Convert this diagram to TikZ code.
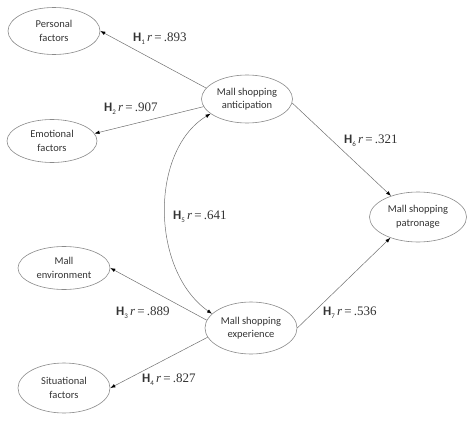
\documentclass[tikz,border=0pt]{standalone}
\usepackage{fontspec}
\setmainfont{Liberation Serif}
\newfontfamily\sanf{Carlito}
\usetikzlibrary{shapes.geometric,arrows.meta}
\definecolor{edgegray}{HTML}{8A8A8A}
\definecolor{linegray}{HTML}{707070}
\definecolor{txt}{HTML}{333333}
\newcommand{\hyp}[2]{{\sanf\bfseries H}\raisebox{-0.45ex}{\sanf\fontsize{7}{7}\selectfont #1}\,\textit{r}\,=\,.#2}
\tikzset{
  construct/.style={ellipse, draw=edgegray, line width=0.6pt, inner sep=0pt,
    minimum width=92pt, minimum height=47pt, align=center, text=txt,
    font=\sanf\fontsize{10.5}{13.5}\selectfont},
  conn/.style={draw=linegray, line width=0.5pt, -{Latex[length=5pt,width=3.6pt,black]}},
  bconn/.style={draw=linegray, line width=0.5pt, {Latex[length=5pt,width=3.6pt,black]}-{Latex[length=5pt,width=3.6pt,black]}},
  hlabel/.style={text=txt, font=\fontsize{13}{13}\selectfont, inner sep=0pt}
}
\begin{document}
\begin{tikzpicture}[x=1pt,y=-1pt]
\useasboundingbox (0,0) rectangle (474,423);
\node[construct, minimum width=92pt, minimum height=47pt] (pers) at (54,31) {Personal\\factors};
\node[construct, minimum width=90pt, minimum height=43pt] (emo) at (52,141) {Emotional\\factors};
\node[construct, minimum width=91pt, minimum height=48pt] (ant) at (247,99) {Mall shopping\\anticipation};
\node[construct, minimum width=97pt, minimum height=50pt] (pat) at (418,217) {Mall shopping\\patronage};
\node[construct, minimum width=92pt, minimum height=43pt] (env) at (64,268) {Mall\\environment};
\node[construct, minimum width=92pt, minimum height=50pt] (sit) at (64,388) {Situational\\factors};
\node[construct, minimum width=92pt, minimum height=52pt] (exp) at (251,328) {Mall shopping\\experience};

\draw[conn] (ant.165) -- (pers.east);
\draw[conn] (ant.190) -- (emo.10);
\draw[bconn] (ant.202) .. controls (150,150) and (150,270) .. (exp.160);
\draw[conn] (exp.170) -- (env.east);
\draw[conn] (exp.192) -- (sit.east);
\draw[conn] (ant.355) -- (pat.142);
\draw[conn] (exp.east) -- (pat.217);

\node[hlabel, anchor=west] (l1) at (133,39) {\hyp{1}{893}};
\node[hlabel, anchor=west] (l2) at (104,109) {\hyp{2}{907}};
\node[hlabel, anchor=west] (l5) at (173,217) {\hyp{5}{641}};
\node[hlabel, anchor=west] (l3) at (116,313) {\hyp{3}{889}};
\node[hlabel, anchor=west] (l4) at (142,380) {\hyp{4}{827}};
\node[hlabel, anchor=west] (l6) at (344,141) {\hyp{6}{321}};
\node[hlabel, anchor=west] (l7) at (323,313) {\hyp{7}{536}};
\end{tikzpicture}
\end{document}
